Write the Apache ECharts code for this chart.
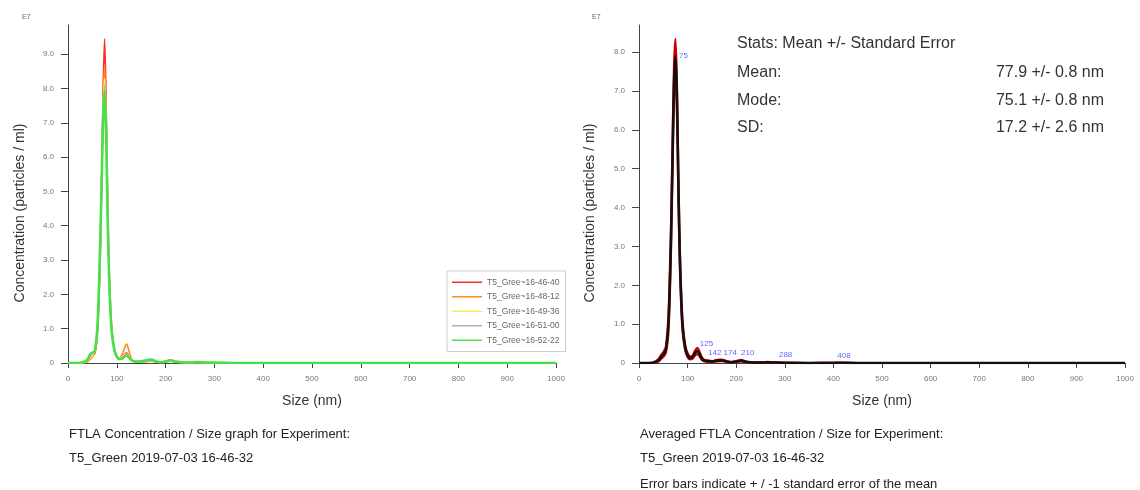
<!DOCTYPE html>
<html><head><meta charset="utf-8">
<script src="https://cdn.jsdelivr.net/npm/echarts@6/dist/echarts.min.js"></script>
<style>html,body{margin:0;padding:0;background:#fff}#c{width:1140px;height:490px}</style>
</head><body><div id="c"></div>
<script>
// Size bins (nm)
const sizes = [0,20,30,40,45,50,55,60,63,66,69,72,75,78,81,84,87,90,95,100,105,110,115,120,125,130,135,140,150,160,170,180,190,200,210,220,235,250,265,280,300,350,400,420,450,500,600,700,800,900,1000];
// Individual runs (E7 particles / ml)
const runNames = ['T5_Gree~16-46-40','T5_Gree~16-48-12','T5_Gree~16-49-36','T5_Gree~16-51-00','T5_Gree~16-52-22'];
const run1 = [0,0,0,0.04,0.12,0.2,0.28,0.8,1.7,3.1,5.3,8.0,9.45,7.7,4.9,2.9,1.7,0.95,0.42,0.2,0.12,0.14,0.24,0.3,0.2,0.09,0.05,0.04,0.03,0.05,0.07,0.04,0.02,0.04,0.07,0.03,0.01,0.01,0.03,0.01,0,0,0,0,0,0,0,0,0,0,0];
const run2 = [0,0,0,0.03,0.1,0.18,0.3,0.9,1.9,3.3,5.4,7.6,8.7,7.2,4.6,2.7,1.5,0.85,0.38,0.18,0.14,0.22,0.4,0.55,0.35,0.12,0.05,0.03,0.02,0.04,0.06,0.03,0.02,0.05,0.09,0.04,0.01,0.01,0.02,0.01,0,0,0,0,0,0,0,0,0,0,0];
const run3 = [0,0,0.01,0.05,0.14,0.22,0.35,1.0,2.0,3.4,5.4,7.4,8.3,7.0,4.6,2.8,1.6,0.9,0.42,0.22,0.15,0.16,0.22,0.26,0.2,0.1,0.06,0.05,0.04,0.07,0.1,0.06,0.03,0.03,0.05,0.03,0.02,0.01,0.01,0.01,0.01,0,0,0,0,0,0,0,0,0,0];
const run4 = [0,0,0.01,0.06,0.18,0.28,0.32,0.85,1.8,3.2,5.2,7.2,8.1,6.9,4.5,2.7,1.55,0.9,0.4,0.2,0.12,0.13,0.2,0.24,0.18,0.09,0.05,0.04,0.03,0.05,0.06,0.04,0.02,0.03,0.06,0.03,0.01,0.01,0.02,0.01,0,0,0,0,0,0,0,0,0,0,0];
const run5 = [0,0,0.02,0.1,0.25,0.3,0.35,1.0,2.0,3.5,5.3,7.1,7.95,6.8,4.4,2.6,1.5,0.85,0.38,0.18,0.12,0.12,0.18,0.22,0.16,0.08,0.05,0.04,0.05,0.08,0.1,0.05,0.02,0.04,0.08,0.04,0.02,0.01,0.03,0.01,0.01,0,0,0,0,0,0,0,0,0,0];
// Averaged run and standard error
const meanConc = [0,0,0.01,0.07,0.15,0.22,0.33,0.9,1.85,3.3,5.3,7.2,7.9,6.9,4.6,2.75,1.6,0.9,0.4,0.2,0.13,0.15,0.25,0.31,0.22,0.1,0.06,0.05,0.04,0.06,0.07,0.04,0.02,0.04,0.06,0.03,0.01,0.01,0.02,0.01,0.005,0,0.003,0.005,0,0,0,0,0,0,0];
const stdErr = [0,0,0.01,0.03,0.05,0.06,0.08,0.2,0.3,0.35,0.4,0.45,0.45,0.4,0.35,0.25,0.18,0.12,0.07,0.05,0.04,0.04,0.06,0.08,0.06,0.03,0.02,0.02,0.01,0.02,0.02,0.01,0.01,0.01,0.02,0.01,0,0,0.01,0,0,0,0,0,0,0,0,0,0,0,0];
// Peak labels
const peakSizes = [75,125,142,174,210,288,408];
const peakHeights = [7.9,0.31,0.06,0.07,0.06,0.02,0.005];
// Ticks
const xTicks = [0,100,200,300,400,500,600,700,800,900,1000];
const yTicksLeft = [0,1,2,3,4,5,6,7,8,9];
const yTicksRight = [0,1,2,3,4,5,6,7,8];
// Stats text
const statsTitle = 'Stats: Mean +/- Standard Error';
const statsRows = [['Mean:','77.9 +/- 0.8 nm'],['Mode:','75.1 +/- 0.8 nm'],['SD:','17.2 +/- 2.6 nm']];

const FONT = '"Liberation Sans", Arial, sans-serif';
const runColors = ['#ff2a2a','#ff8a1a','#f4ee60','#b4b4b4','#48e048'];
const runWidths = [1.6,1.6,1.6,1.6,2.6];
const runs = [run1,run2,run3,run4,run5];

const fmt = v => v === 0 ? '0' : v.toFixed(1);
function xAx(i){
  return {type:'value', gridIndex:i, min:0, max:1000, interval:100,
    axisLine:{show:true, onZero:false, lineStyle:{color:'#444', width:1}},
    axisTick:{show:true, length:5, lineStyle:{color:'#444'}, customValues:xTicks},
    axisLabel:{fontSize:8, color:'#777', fontFamily:FONT, margin:12, customValues:xTicks, formatter:v=>String(v)},
    splitLine:{show:false}};
}
function yAx(i, max, ticks){
  return {type:'value', gridIndex:i, min:0, max:max,
    axisLine:{show:true, lineStyle:{color:'#444', width:1}},
    axisTick:{show:true, length:7, lineStyle:{color:'#444'}, customValues:ticks},
    axisLabel:{fontSize:8, color:'#777', fontFamily:FONT, margin:14, formatter:fmt, customValues:ticks},
    splitLine:{show:false}};
}
const pairs = arr => sizes.map((s,i)=>[s, arr[i]]);

const series = [];
runs.forEach((r,k)=>{
  series.push({name:runNames[k], type:'line', xAxisIndex:0, yAxisIndex:0, data:pairs(r),
    symbol:'none', smooth:0.3, lineStyle:{color:runColors[k], width:runWidths[k]}, itemStyle:{color:runColors[k]}, z:2+k});
});
series.push({name:'upper', type:'line', xAxisIndex:1, yAxisIndex:1,
  data:sizes.map((s,i)=>[s, meanConc[i]+stdErr[i]]),
  symbol:'none', smooth:0.3, lineStyle:{color:'#d00000', width:2.2}, z:3});
series.push({name:'lower', type:'line', xAxisIndex:1, yAxisIndex:1,
  data:sizes.map((s,i)=>[s, Math.max(0, meanConc[i]-stdErr[i])]),
  symbol:'none', smooth:0.3, lineStyle:{color:'#c00000', width:2.2}, z:3});
series.push({name:'mean', type:'line', xAxisIndex:1, yAxisIndex:1, data:pairs(meanConc),
  symbol:'none', smooth:0.3, lineStyle:{color:'#111', width:2.5}, z:5});
series.push({name:'peaks', type:'scatter', xAxisIndex:1, yAxisIndex:1, symbolSize:1,
  itemStyle:{color:'rgba(0,0,0,0)'}, z:6,
  data:peakSizes.map((s,i)=>({value:[s, peakHeights[i]],
    label: i===0 ? {position:'right', distance:3} : {position:'top', align:'left', distance:3}})),
  label:{show:true, color:'#3c3cff', fontSize:8, fontFamily:FONT, formatter:p=>String(p.value[0])}});

const txt = (x,y,text,size,extra) => Object.assign({type:'text', x:x, y:y,
  style:Object.assign({text:text, font:size+'px '+FONT, fill:'#333', textVerticalAlign:'middle'}, extra||{})});

const graphic = [
  txt(22,17,'E7',7,{fill:'#666'}),
  txt(592,17,'E7',7,{fill:'#666'}),
  Object.assign(txt(20,213,'Concentration (particles / ml)',14,{textAlign:'center'}),{rotation:Math.PI/2}),
  Object.assign(txt(590,213,'Concentration (particles / ml)',14,{textAlign:'center'}),{rotation:Math.PI/2}),
  txt(312,401,'Size (nm)',14,{textAlign:'center'}),
  txt(882,401,'Size (nm)',14,{textAlign:'center'}),
  txt(737,44,statsTitle,16),
  txt(69,434,'FTLA Concentration / Size graph for Experiment:',13,{fill:'#222'}),
  txt(69,458,'T5_Green 2019-07-03 16-46-32',13,{fill:'#222'}),
  txt(640,434,'Averaged FTLA Concentration / Size for Experiment:',13,{fill:'#222'}),
  txt(640,458,'T5_Green 2019-07-03 16-46-32',13,{fill:'#222'}),
  txt(640,484,'Error bars indicate + / -1 standard error of the mean',13,{fill:'#222'})
];
statsRows.forEach((r,i)=>{
  graphic.push(txt(737,73+i*27.5,r[0],16));
  graphic.push(txt(1104,73+i*27.5,r[1],16,{textAlign:'right'}));
});

const chart = echarts.init(document.getElementById('c'), null, {renderer:'canvas'});
chart.setOption({
  animation:false,
  backgroundColor:'#fff',
  grid:[{left:68, top:25, width:488, height:338},{left:639, top:25, width:486, height:338}],
  xAxis:[xAx(0), xAx(1)],
  yAxis:[yAx(0, 9.85, yTicksLeft), yAx(1, 8.7, yTicksRight)],
  legend:{data:runNames, orient:'vertical', left:447, top:271, padding:[6,6,6,5], itemGap:4,
    itemWidth:30, itemHeight:1.5, icon:'rect', borderColor:'#cfc8dc', borderWidth:1, backgroundColor:'#fff',
    textStyle:{fontSize:8.5, color:'#666', fontFamily:FONT, lineHeight:10.5}},
  series:series,
  graphic:graphic
});
</script></body></html>
